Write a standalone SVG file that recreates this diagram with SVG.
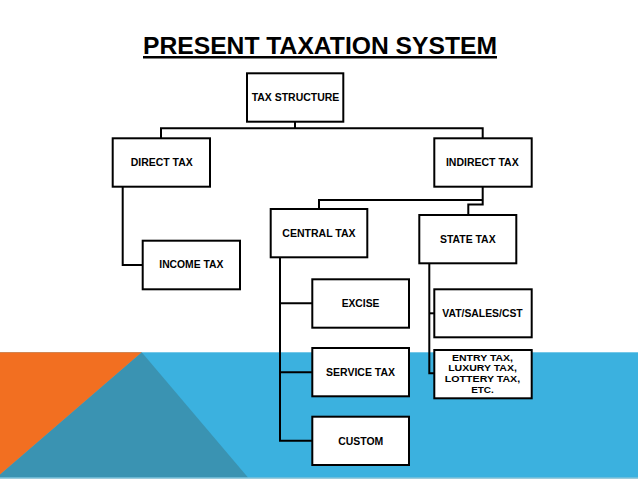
<svg xmlns="http://www.w3.org/2000/svg" width="638" height="479" viewBox="0 0 638 479">
<style>
.box{fill:#fff;stroke:#000;stroke-width:2}
.lbl{font-family:"Liberation Sans",Arial,Helvetica,sans-serif;font-weight:bold;font-size:11.5px;fill:#000;text-anchor:middle}
.sm{font-size:9.5px}
.con{fill:none;stroke:#000;stroke-width:2}
</style>
<rect x="0" y="0" width="638" height="479" fill="#fff"/>
<g id="background">
<rect x="0" y="352.3" width="638" height="126.7" fill="#3BB1DF"/>
<polygon points="141.7,352.3 0,474.5 0,477.5 248,477.5" fill="#3A93B2"/>
<polygon points="0,352.3 141.7,352.3 0,474.5" fill="#F26F21"/>
<rect x="0" y="477.5" width="638" height="1.5" fill="#9CCBDB"/>
</g>
<g id="title">
<text x="320" y="54" font-family="'Liberation Sans',Arial,Helvetica,sans-serif" font-weight="bold" font-size="24.4" text-anchor="middle" textLength="354" lengthAdjust="spacingAndGlyphs">PRESENT TAXATION SYSTEM</text>
<rect x="143" y="56" width="354" height="2.5" fill="#000"/>
</g>
<g id="connectors">
<polyline class="con" points="295,122 295,128.3"/>
<polyline class="con" points="161,138.3 161,128.3 482.7,128.3 482.7,138.3"/>
<polyline class="con" points="122.7,186.7 122.7,265 142.7,265"/>
<polyline class="con" points="482.7,186.7 482.7,204.5 468.3,204.5 468.3,215"/>
<polyline class="con" points="319,209 319,200 482.7,200"/>
<polyline class="con" points="280,257.3 280,440.8 312.3,440.8"/>
<polyline class="con" points="280,303.3 312.3,303.3"/>
<polyline class="con" points="280,372.3 312.3,372.3"/>
<polyline class="con" points="429.3,263.3 429.3,373.3 434.3,373.3"/>
<polyline class="con" points="429.3,313.3 434.3,313.3"/>
</g>
<g id="tax-structure">
<rect class="box" x="247" y="73.3" width="96.3" height="48.4"/>
<text class="lbl" x="295.5" y="100.8" textLength="87.6" lengthAdjust="spacingAndGlyphs">TAX STRUCTURE</text>
</g>
<g id="direct-tax">
<rect class="box" x="112.7" y="138.3" width="97.3" height="48.4"/>
<text class="lbl" x="161.7" y="166.4" textLength="62" lengthAdjust="spacingAndGlyphs">DIRECT TAX</text>
</g>
<g id="indirect-tax">
<rect class="box" x="434.3" y="138.3" width="97.4" height="48.4"/>
<text class="lbl" x="482.3" y="166.4" textLength="72.7" lengthAdjust="spacingAndGlyphs">INDIRECT TAX</text>
</g>
<g id="income-tax">
<rect class="box" x="142.7" y="240.7" width="97.3" height="48.6"/>
<text class="lbl" x="191.3" y="268.1" textLength="64" lengthAdjust="spacingAndGlyphs">INCOME TAX</text>
</g>
<g id="central-tax">
<rect class="box" x="270.7" y="209" width="96.6" height="48.3"/>
<text class="lbl" x="319" y="237.4" textLength="73.3" lengthAdjust="spacingAndGlyphs">CENTRAL TAX</text>
</g>
<g id="state-tax">
<rect class="box" x="419.3" y="215" width="97" height="48.3"/>
<text class="lbl" x="467.8" y="243.1" textLength="55.7" lengthAdjust="spacingAndGlyphs">STATE TAX</text>
</g>
<g id="excise">
<rect class="box" x="312.3" y="279.3" width="96.7" height="48.4"/>
<text class="lbl" x="360.5" y="307.4" textLength="37.7" lengthAdjust="spacingAndGlyphs">EXCISE</text>
</g>
<g id="service-tax">
<rect class="box" x="312.3" y="348" width="96.7" height="48.3"/>
<text class="lbl" x="360.5" y="376.1" textLength="69" lengthAdjust="spacingAndGlyphs">SERVICE TAX</text>
</g>
<g id="custom">
<rect class="box" x="312.3" y="416.7" width="96.7" height="48.3"/>
<text class="lbl" x="360.8" y="444.9" textLength="45" lengthAdjust="spacingAndGlyphs">CUSTOM</text>
</g>
<g id="vat-sales-cst">
<rect class="box" x="434.3" y="289.3" width="97.4" height="48"/>
<text class="lbl" x="482.5" y="317.4" textLength="80.3" lengthAdjust="spacingAndGlyphs">VAT/SALES/CST</text>
</g>
<g id="entry-tax">
<rect class="box" x="434.3" y="350" width="97.4" height="48.3"/>
<text class="lbl sm"><tspan x="482.5" y="360.6" textLength="61" lengthAdjust="spacingAndGlyphs">ENTRY TAX,</tspan><tspan x="482.5" y="371.3" textLength="68.7" lengthAdjust="spacingAndGlyphs">LUXURY TAX,</tspan><tspan x="482.5" y="382" textLength="75.3" lengthAdjust="spacingAndGlyphs">LOTTERY TAX,</tspan><tspan x="482.5" y="392.7" textLength="22.7" lengthAdjust="spacingAndGlyphs">ETC.</tspan></text>
</g>
</svg>
